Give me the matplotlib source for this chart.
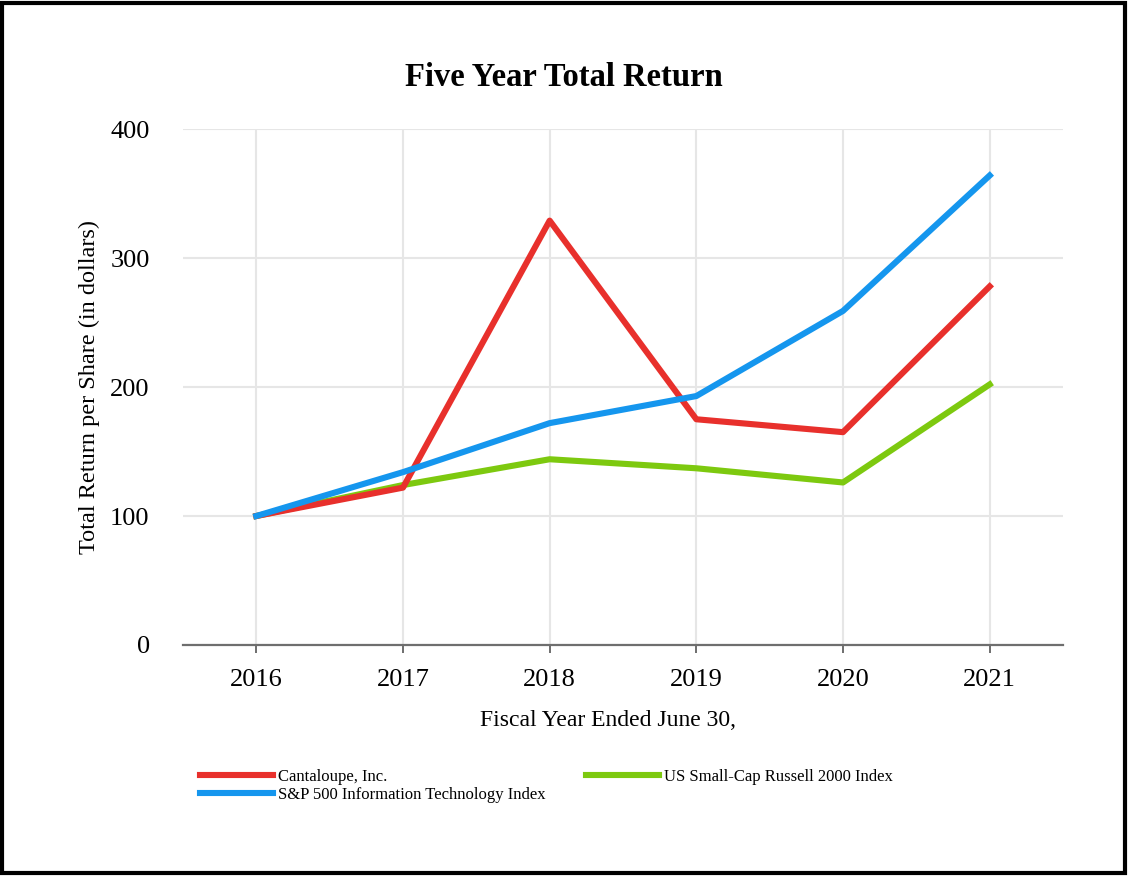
import matplotlib.pyplot as plt
from matplotlib.patches import Rectangle

# Data
YEARS = [2016, 2017, 2018, 2019, 2020, 2021]
CANTALOUPE = [100, 122, 329, 175, 165, 278]
SP500_IT = [100, 134, 172, 193, 259, 364]
RUSSELL_2000 = [100, 124, 144, 137, 126, 202]
Y_TICKS = [0, 100, 200, 300, 400]

plt.rcParams['font.family'] = ['Liberation Serif', 'DejaVu Serif']

fig = plt.figure(figsize=(11.28, 8.76), dpi=100)
ax = fig.add_axes([0.1622, 0.2637, 0.7802, 0.589])

lw = 4.4
ax.plot(YEARS, CANTALOUPE, color="#E8302C", lw=lw, label="Cantaloupe, Inc.", zorder=3)
ax.plot(YEARS, SP500_IT, color="#1596EE", lw=lw, label="S&P 500 Information Technology Index", zorder=4)
ax.plot(YEARS, RUSSELL_2000, color="#7DC90F", lw=lw, label="US Small-Cap Russell 2000 Index", zorder=2)

ax.set_xlim(2015.5, 2021.5)
ax.set_ylim(0, 400)
ax.set_xticks(YEARS)
ax.set_yticks(Y_TICKS)
ax.grid(True, color="#e6e6e6", lw=1.5, zorder=0)
ax.set_axisbelow(True)

for s in ["top", "right", "left"]:
    ax.spines[s].set_visible(False)
ax.spines["bottom"].set_color("#6e6e6e")
ax.spines["bottom"].set_linewidth(1.6)
ax.tick_params(axis="x", length=6, width=1.4, color="#6e6e6e", pad=11, labelsize=19)
ax.tick_params(axis="y", length=0, pad=24, labelsize=19)

fig.text(0.5, 0.911, "Five Year Total Return", fontsize=23.5, fontweight="bold",
         ha="center", va="center")
ax.set_xlabel("Fiscal Year Ended June 30,", fontsize=17, labelpad=14)
ax.xaxis.label.set_x(0.483)
ax.set_ylabel("Total Return per Share (in dollars)", fontsize=17.5, labelpad=7)

fig.legend(loc="upper left", bbox_to_anchor=(0.171, 0.13), ncol=2, frameon=False,
           fontsize=12, handlelength=4.4, labelspacing=0.12, columnspacing=2.4,
           handletextpad=0.3, borderaxespad=0)

fig.patches.append(Rectangle((0.002, 0.003), 0.995, 0.994, transform=fig.transFigure,
                             fill=False, edgecolor="black", lw=3))

fig.savefig("out.png", dpi=100)
